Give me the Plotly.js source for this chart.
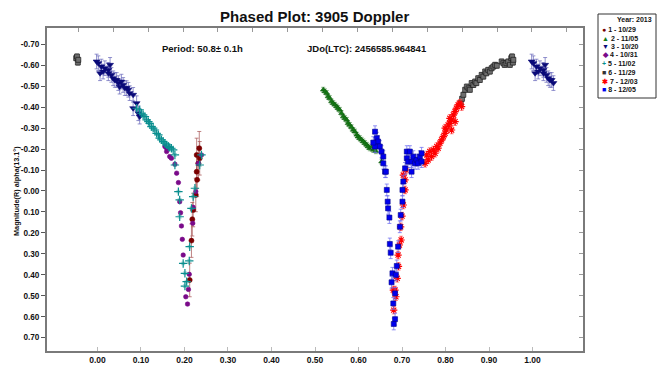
<!DOCTYPE html>
<html>
<head>
<meta charset="utf-8">
<script src="https://cdn.plot.ly/plotly-3.0.1.min.js"></script>
<style>html,body{margin:0;padding:0;background:#fff;}#chart{width:657px;height:366px;}</style>
</head>
<body>
<div id="chart"></div>
<script>
// ---- data (phase, reduced magnitude) ----
const s1_label = "1 - 10/29";
const s1_phase = [0.234,0.228,0.235,0.232,0.228,0.229,0.226,0.220,0.218,0.216,0.212];
const s1_mag   = [-0.204,-0.172,-0.156,-0.132,-0.092,-0.053,0.019,0.091,0.135,0.237,0.425];

const s2_label = "2 - 11/05";
const s2_phase = [0.519,0.523,0.527,0.530,0.534,0.538,0.542,0.546,0.550,0.553,0.557,0.561,0.565,0.569,0.573,0.576,0.580,0.584,0.588,0.592,0.596,0.599,0.603,0.607,0.611,0.615,0.619,0.622,0.626,0.630,0.634,0.640,0.653];
const s2_mag   = [-0.483,-0.475,-0.467,-0.451,-0.443,-0.427,-0.419,-0.411,-0.403,-0.395,-0.387,-0.371,-0.355,-0.347,-0.339,-0.323,-0.315,-0.304,-0.291,-0.283,-0.268,-0.259,-0.252,-0.244,-0.236,-0.228,-0.220,-0.212,-0.204,-0.208,-0.196,-0.190,-0.140];

const s3_label = "3 - 10/20";
const s3_phase = [-0.002,0.002,0.009,0.006,0.013,0.017,0.025,0.029,0.025,0.032,0.036,0.040,0.044,0.048,0.051,0.055,0.059,0.063,0.067,0.071,0.074,0.082,0.082,0.090,0.094,0.097];
const s3_mag   = [-0.618,-0.610,-0.594,-0.562,-0.570,-0.586,-0.578,-0.602,-0.562,-0.554,-0.538,-0.530,-0.530,-0.515,-0.498,-0.522,-0.506,-0.491,-0.491,-0.483,-0.467,-0.459,-0.395,-0.419,-0.371,-0.355];

const s4_label = "4 - 10/31";
const s4_phase = [0.155,0.159,0.159,0.166,0.170,0.178,0.182,0.186,0.189,0.191,0.193,0.195,0.197,0.211,0.209,0.203,0.207,0.239,0.232,0.226,0.220,0.219];
const s4_mag   = [-0.212,-0.204,-0.188,-0.164,-0.156,-0.128,-0.085,-0.040,0.051,0.104,0.167,0.231,0.306,0.398,0.470,0.505,0.540,-0.172,-0.132,0.003,0.078,0.154];

const s5_label = "5 - 11/02";
const s5_phase = [0.090,0.097,0.101,0.105,0.109,0.113,0.117,0.120,0.124,0.128,0.132,0.136,0.140,0.143,0.147,0.151,0.155,0.159,0.163,0.166,0.170,0.174,0.178,0.178,0.186,0.189,0.189,0.212,0.211,0.197,0.201,0.205,0.201,0.224,0.220,0.216,0.239,0.235];
const s5_mag   = [-0.395,-0.387,-0.371,-0.363,-0.355,-0.339,-0.331,-0.323,-0.307,-0.300,-0.291,-0.275,-0.268,-0.252,-0.244,-0.236,-0.228,-0.220,-0.212,-0.208,-0.204,-0.196,-0.172,-0.124,0.003,0.043,0.123,0.266,0.334,0.346,0.393,0.433,0.454,-0.013,0.027,0.083,-0.172,-0.124];

const s6_label = "6 - 11/29";
const s6_phase = [0.835,0.838,0.841,0.845,0.849,0.853,0.856,0.860,0.864,0.868,0.871,0.875,0.879,0.883,0.887,0.891,0.894,0.898,0.902,0.906,0.910,0.914,0.918,0.929,0.933,0.936,0.940,0.944,0.948,0.951,0.953,0.955,0.956];
const s6_mag   = [-0.420,-0.440,-0.459,-0.483,-0.498,-0.490,-0.483,-0.515,-0.506,-0.522,-0.515,-0.538,-0.530,-0.554,-0.546,-0.570,-0.562,-0.578,-0.570,-0.586,-0.594,-0.602,-0.598,-0.618,-0.610,-0.602,-0.610,-0.618,-0.602,-0.634,-0.642,-0.613,-0.626];

const s7_label = "7 - 12/03";
const s7_phase = [0.703,0.707,0.703,0.697,0.694,0.691,0.689,0.684,0.686,0.681,0.680,0.698,0.707,0.709,0.753,0.757,0.760,0.764,0.768,0.772,0.776,0.780,0.783,0.787,0.791,0.795,0.799,0.799,0.802,0.806,0.810,0.810,0.814,0.818,0.822,0.825,0.829,0.833,0.837,0.822,0.814,0.700,0.692];
const s7_mag   = [-0.076,-0.005,0.067,0.171,0.258,0.306,0.417,0.473,0.505,0.569,0.473,0.234,-0.053,-0.100,-0.132,-0.172,-0.148,-0.188,-0.164,-0.196,-0.180,-0.212,-0.204,-0.228,-0.244,-0.259,-0.275,-0.300,-0.291,-0.315,-0.323,-0.347,-0.339,-0.363,-0.379,-0.395,-0.411,-0.419,-0.403,-0.331,-0.291,0.120,0.360];

const s8_label = "8 - 12/05";
const s8_phase = [0.638,0.642,0.645,0.638,0.649,0.653,0.657,0.657,0.661,0.634,0.663,0.665,0.667,0.668,0.671,0.672,0.674,0.688,0.678,0.676,0.684,0.680,0.684,0.681,0.711,0.718,0.711,0.714,0.722,0.726,0.730,0.734,0.737,0.741,0.745,0.745,0.722,0.707,0.703,0.701,0.701,0.697,0.695,0.691,0.686];
const s8_mag   = [-0.283,-0.252,-0.236,-0.212,-0.212,-0.188,-0.164,-0.132,-0.092,-0.231,-0.092,-0.005,0.051,0.083,0.127,0.253,0.295,0.358,0.393,0.436,0.489,0.537,0.612,0.635,-0.188,-0.188,-0.156,-0.140,-0.140,-0.164,-0.132,-0.148,-0.132,-0.164,-0.180,-0.140,-0.092,-0.108,-0.045,-0.005,0.051,0.115,0.171,0.266,0.401];

const xTickVals   = [0,0.1,0.2,0.3,0.4,0.5,0.6,0.7,0.8,0.9,1.0];
const xTickLabels = ["0.00","0.10","0.20","0.30","0.40","0.50","0.60","0.70","0.80","0.90","1.00"];
const yTickVals   = [-0.7,-0.6,-0.5,-0.4,-0.3,-0.2,-0.1,0,0.1,0.2,0.3,0.4,0.5,0.6,0.7];
const yTickLabels = ["-0.70","-0.60","-0.50","-0.40","-0.30","-0.20","-0.10","0.00","0.10","0.20","0.30","0.40","0.50","0.60","0.70"];

const titleText  = "Phased Plot: 3905 Doppler";
const periodText = "Period: 50.8\u00b1 0.1h";
const jdText     = "JDo(LTC): 2456585.964841";
const yTitleText = "Magnitude(R) alpha(13.1\u00b0)";
const legendTitle = "Year: 2013";

// ---- build traces; points near phase 0/1 are repeated one cycle over ----
function wrap(ph, mg) {
  const x = ph.slice(), y = mg.slice();
  ph.forEach((p, i) => {
    if (p < 0.05) { x.push(p + 1); y.push(mg[i]); }
    if (p >= 0.95) { x.push(p - 1); y.push(mg[i]); }
  });
  return {x, y};
}
const F = "Liberation Sans, Arial, sans-serif";
const series = [
  {n:s1_label, p:s1_phase, m:s1_mag, sym:"circle", c:"#7a0000", lc:"#7a0000", ec:"rgba(170,90,90,0.75)", err:0.08, sz:5, g:"\u25CF"},
  {n:s2_label, p:s2_phase, m:s2_mag, sym:"triangle-up", c:"#137a13", lc:"#0f5a0f", ec:"rgba(80,150,80,0.7)", err:0.012, sz:5, g:"\u25B2"},
  {n:s3_label, p:s3_phase, m:s3_mag, sym:"triangle-down", c:"#0a0a78", lc:"#0a0a78", ec:"rgba(110,110,190,0.75)", err:0.035, sz:6, g:"\u25BC"},
  {n:s4_label, p:s4_phase, m:s4_mag, sym:"circle", c:"#7a0a8a", lc:"#7a0a8a", ec:"rgba(160,100,170,0.6)", err:0.005, sz:4.5, g:"\u25C6"},
  {n:s5_label, p:s5_phase, m:s5_mag, sym:"cross-thin-open", c:"#0a8f8f", lc:"#0a8f8f", ec:"rgba(60,160,160,0.5)", err:0.006, sz:6, g:"+"},
  {n:s6_label, p:s6_phase, m:s6_mag, sym:"square", c:"#6e6e6e", lc:"#111111", ec:"rgba(90,90,90,0.7)", err:0.012, sz:5, g:"\u25A0"},
  {n:s7_label, p:s7_phase, m:s7_mag, sym:"asterisk-open", c:"#ff0000", lc:"#ff0000", ec:"rgba(255,80,80,0.7)", err:0.018, sz:6, g:"\u2731"},
  {n:s8_label, p:s8_phase, m:s8_mag, sym:"square", c:"#0000ee", lc:"#000088", ec:"rgba(110,110,240,0.75)", err:0.028, sz:5, g:"\u25A0"}
];
const traces = series.map(s => {
  const w = wrap(s.p, s.m);
  const open = s.sym.indexOf("open") >= 0;
  return {
    type:"scatter", mode:"markers", name:s.n, x:w.x, y:w.y, showlegend:false,
    marker:{symbol:s.sym, size:s.sz, color:s.c, line:{color:s.lc, width: open ? 1.2 : 0.6}},
    error_y:{type:"constant", value:s.err, color:s.ec, thickness:1, width:2}
  };
});
traces.push({type:"scatter", mode:"markers", x:[], y:[], xaxis:"x2", yaxis:"y2", showlegend:false, hoverinfo:"skip"});

// page-pixel to paper coordinates
const M = {l:47, r:74, t:28, b:15}, W = 657, H = 366;
const pw = W - M.l - M.r, ph = H - M.t - M.b;
const px = v => (v - M.l) / pw, py = v => (H - M.b - v) / ph;

const annotations = [
  {xref:"paper", yref:"paper", x:px(202), y:py(48), text:periodText, showarrow:false, xanchor:"center", yanchor:"middle",
   font:{family:F, size:9.5, weight:"bold", color:"#111"}},
  {xref:"paper", yref:"paper", x:px(367), y:py(48), text:jdText, showarrow:false, xanchor:"center", yanchor:"middle",
   font:{family:F, size:9.5, weight:"bold", color:"#111"}},
  {xref:"paper", yref:"paper", x:px(16), y:py(191), text:yTitleText, showarrow:false, textangle:-90, xanchor:"center", yanchor:"middle",
   font:{family:F, size:7.3, weight:"bold", color:"#111"}},
  {xref:"paper", yref:"paper", x:px(654), y:py(20), text:legendTitle, showarrow:false, xanchor:"right", yanchor:"middle",
   font:{family:F, size:7, weight:"bold", color:"#111"}}
];
series.forEach((s, i) => {
  annotations.push({xref:"paper", yref:"paper", x:px(600), y:py(29.5 + i * 8.6), showarrow:false, xanchor:"left", yanchor:"middle",
    text:'<span style="color:' + (s.c === "#6e6e6e" ? "#333333" : s.c) + '">' + s.g + '</span> ' + s.n,
    font:{family:F, size:7, weight:"bold", color:"#111"}});
});

const layout = {
  width:W, height:H,
  margin:M,
  paper_bgcolor:"#ffffff", plot_bgcolor:"#ffffff",
  showlegend:false,
  font:{family:F, size:9, color:"#111", weight:"bold"},
  title:{text:titleText, font:{family:F, size:15, weight:"bold", color:"#111"}, x:0.479, xanchor:"center", y:0.955, yanchor:"middle"},
  xaxis:{range:[-0.116,1.116], tickvals:xTickVals, ticktext:xTickLabels, ticks:"inside", ticklen:4, tickcolor:"#bbbbbb",
         showgrid:false, zeroline:false, showline:true, linecolor:"#7a7a7a", linewidth:2, mirror:true,
         tickfont:{family:F, size:8.5, weight:"bold", color:"#111"}},
  xaxis2:{range:[-0.116,1.116], overlaying:"x", side:"top", tick0:-0.044, dtick:0.0802, ticks:"inside", ticklen:4,
          tickcolor:"#999999", showticklabels:false, showgrid:false, zeroline:false, showline:false},
  yaxis:{range:[0.764,-0.778], tickvals:yTickVals, ticktext:yTickLabels, ticks:"outside", ticklen:4, tickcolor:"#555",
         showgrid:false, zeroline:false, showline:true, linecolor:"#7a7a7a", linewidth:2, mirror:true,
         tickfont:{family:F, size:8.2, weight:"bold", color:"#111"}},
  yaxis2:{range:[0.764,-0.778], overlaying:"y", side:"right", tickvals:yTickVals, ticks:"inside", ticklen:4, tickcolor:"#999999",
          showticklabels:false, showgrid:false, zeroline:false, showline:false},
  shapes:[{type:"rect", xref:"paper", yref:"paper", x0:px(598), x1:px(656), y0:py(98), y1:py(14),
           line:{color:"#333", width:1}, fillcolor:"rgba(0,0,0,0)"}],
  annotations:annotations
};

Plotly.newPlot("chart", traces, layout, {staticPlot:true, displayModeBar:false});
</script>
</body>
</html>
